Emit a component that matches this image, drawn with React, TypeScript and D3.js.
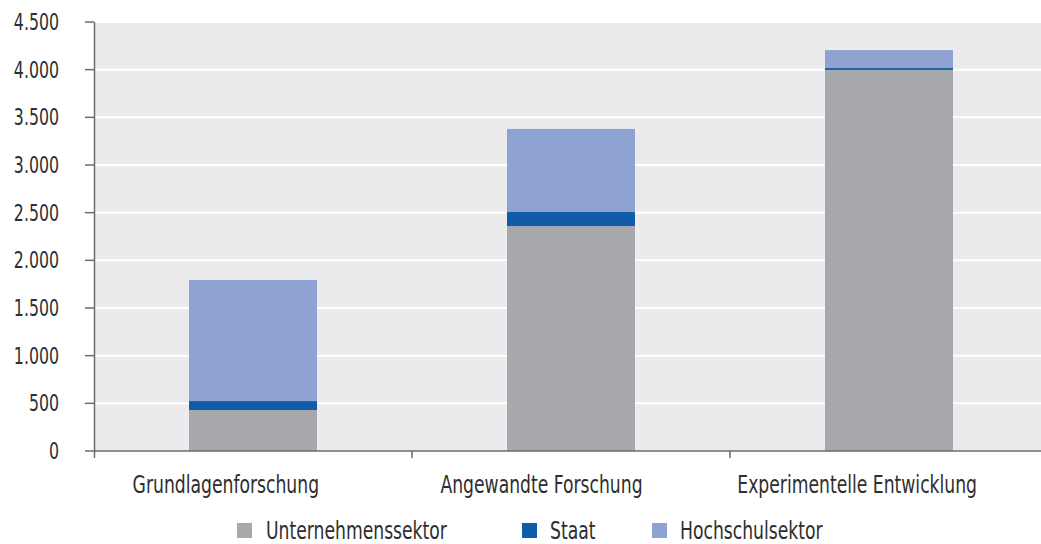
import React from 'react';
import * as d3 from 'd3';

const categories = ['Grundlagenforschung', 'Angewandte Forschung', 'Experimentelle Entwicklung'];
const seriesNames = ['Unternehmenssektor', 'Staat', 'Hochschulsektor'];
const unternehmen = [430, 2360, 3997];
const staat = [94, 147, 20];
const hochschul = [1270, 871, 188];
const yTicks = [0, 500, 1000, 1500, 2000, 2500, 3000, 3500, 4000, 4500];

const colors = ['#a7a8ab', '#105cab', '#8fa3d3'];
const font = '"Liberation Sans Narrow", "DejaVu Sans Condensed", sans-serif';
const squeeze = 0.78; // the original uses a narrow condensed face

const W = 1041;
const H = 544;
const margin = { top: 22, bottom: 93, left: 94 };
// the category bands run a bit past the right edge of the picture
const plotRight = 1048;

const fmt = (v: number) => v.toLocaleString('de-DE');

const Label: React.FC<{ x: number; y: number; size: number; anchor?: string; dy?: string; children: React.ReactNode }> = ({
  x,
  y,
  size,
  anchor = 'start',
  dy,
  children,
}) => (
  <text transform={`translate(${x},${y}) scale(${squeeze},1)`} dy={dy} textAnchor={anchor} fontSize={size} fill="#2e2e2e">
    {children}
  </text>
);

const App: React.FC = () => {
  const rows = categories.map((c, i) => ({
    cat: c,
    Unternehmenssektor: unternehmen[i],
    Staat: staat[i],
    Hochschulsektor: hochschul[i],
  }));
  const stack = d3.stack<any>().keys(seriesNames)(rows);

  const pad = 0.5975;
  const x = d3
    .scaleBand<string>()
    .domain(categories)
    .range([margin.left, plotRight])
    .paddingInner(pad)
    .paddingOuter(pad / 2);
  const band = d3.scaleBand<string>().domain(categories).range([margin.left, plotRight]);
  // labels in the original sit a little left of the bar centres
  const labelBand = d3.scaleBand<string>().domain(categories).range([68, 1015]);
  const y = d3.scaleLinear().domain([0, 4500]).range([H - margin.bottom, margin.top]);
  const y0 = y(0);

  const legendItems = [
    { name: seriesNames[0], sx: 237, tx: 266 },
    { name: seriesNames[1], sx: 522, tx: 550 },
    { name: seriesNames[2], sx: 652, tx: 680 },
  ];

  return (
    <svg width={W} height={H} style={{ position: 'absolute', left: 0, top: 0 }} fontFamily={font}>
      <rect x={margin.left} y={margin.top} width={W - margin.left} height={y0 - margin.top} fill="#ebebed" />
      {yTicks.filter((t) => t > 0).map((t) => (
        <line key={t} x1={margin.left} x2={W} y1={y(t)} y2={y(t)} stroke="#ffffff" strokeWidth={2} />
      ))}
      {stack.map((s, si) => (
        <g key={s.key} fill={colors[si]}>
          {s.map((d: any) => (
            <rect key={d.data.cat} x={x(d.data.cat)} width={x.bandwidth()} y={y(d[1])} height={y(d[0]) - y(d[1])} />
          ))}
        </g>
      ))}
      {/* y axis */}
      <line x1={margin.left + 0.5} x2={margin.left + 0.5} y1={margin.top} y2={y0 + 7} stroke="#6b6b6b" strokeWidth={1.5} />
      {yTicks.map((t) => (
        <g key={t}>
          <line x1={85} x2={margin.left} y1={y(t)} y2={y(t)} stroke="#6b6b6b" strokeWidth={1.5} />
          <Label x={59} y={y(t)} dy="0.36em" anchor="end" size={22.5}>
            {fmt(t)}
          </Label>
        </g>
      ))}
      {/* x axis */}
      <line x1={margin.left} x2={W} y1={y0} y2={y0} stroke="#6b6b6b" strokeWidth={1.5} />
      {categories.map((c) => (
        <g key={c}>
          <line x1={(band(c) as number) + band.bandwidth()} x2={(band(c) as number) + band.bandwidth()} y1={y0} y2={y0 + 7} stroke="#6b6b6b" strokeWidth={1.5} />
          <Label x={(labelBand(c) as number) + labelBand.bandwidth() / 2} y={493} anchor="middle" size={24.5}>
            {c}
          </Label>
        </g>
      ))}
      {/* legend */}
      {legendItems.map((l, i) => (
        <g key={l.name}>
          <rect x={l.sx} y={523} width={15} height={15} fill={colors[i]} />
          <Label x={l.tx} y={539} size={24.5}>
            {l.name}
          </Label>
        </g>
      ))}
    </svg>
  );
};

export default App;
